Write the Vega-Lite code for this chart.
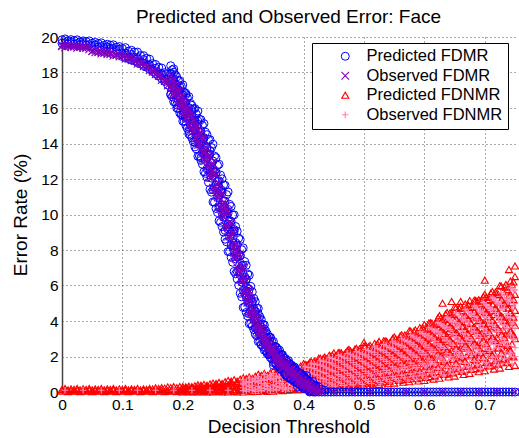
{
"$schema": "https://vega.github.io/schema/vega-lite/v6.json",
"width": 453, "height": 355,
"autosize": "none",
"padding": {"left": 62, "top": 37, "right": 4, "bottom": 46},
"background": "white",
"title": {"text": "Predicted and Observed Error: Face", "fontSize": 19, "font": "Liberation Sans", "fontWeight": "normal", "color": "black", "anchor": "middle", "offset": 3},
"data": {"values": [
{"s":"a","t":0,"v":[0.05,0.15]},{"s":"a","t":0.005,"v":[0.1,0.2]},{"s":"a","t":0.01,"v":[0.02,0.12]},{"s":"a","t":0.015,"v":[0.08,0.18]},
{"s":"a","t":0.02,"v":[0.05,0.15]},{"s":"a","t":0.025,"v":[0.1,0.2]},{"s":"a","t":0.03,"v":[0.02,0.12]},{"s":"a","t":0.035,"v":[0.08,0.18]},
{"s":"a","t":0.04,"v":[0.05,0.15]},{"s":"a","t":0.045,"v":[0.1,0.2]},{"s":"a","t":0.05,"v":[0.02,0.12]},{"s":"a","t":0.055,"v":[0.08,0.18]},
{"s":"a","t":0.06,"v":[0.05,0.15]},{"s":"a","t":0.065,"v":[0.1,0.2]},{"s":"a","t":0.07,"v":[0.02,0.12]},{"s":"a","t":0.075,"v":[0.08,0.18]},
{"s":"a","t":0.08,"v":[0.05,0.15]},{"s":"a","t":0.085,"v":[0.1,0.2]},{"s":"a","t":0.09,"v":[0.02,0.12]},{"s":"a","t":0.095,"v":[0.08,0.18]},
{"s":"a","t":0.1,"v":[0.05,0.15]},{"s":"a","t":0.105,"v":[0.1,0.2]},{"s":"a","t":0.11,"v":[0.02,0.12]},{"s":"a","t":0.115,"v":[0.08,0.18]},
{"s":"a","t":0.12,"v":[0.05,0.15]},{"s":"a","t":0.125,"v":[0.1,0.2]},{"s":"a","t":0.13,"v":[0.02,0.12]},{"s":"a","t":0.135,"v":[0.08,0.18]},
{"s":"a","t":0.14,"v":[0.05,0.15]},{"s":"a","t":0.145,"v":[0.1,0.2]},{"s":"a","t":0.15,"v":[0.02,0.17]},{"s":"a","t":0.155,"v":[0.08,0.23]},
{"s":"a","t":0.16,"v":[0.05,0.2]},{"s":"a","t":0.165,"v":[0.1,0.25]},{"s":"a","t":0.17,"v":[0.02,0.22]},{"s":"a","t":0.175,"v":[0.08,0.28]},
{"s":"a","t":0.18,"v":[0.05,0.25]},{"s":"a","t":0.185,"v":[0.1,0.3]},{"s":"a","t":0.19,"v":[0.02,0.24]},{"s":"a","t":0.195,"v":[0.08,0.3]},
{"s":"a","t":0.2,"v":[0.3,0.19,0.09,0]},{"s":"a","t":0.205,"v":[0.29,0.24,0.14,0.03]},{"s":"a","t":0.21,"v":[0.33,0.19,0.07,0.02]},{"s":"a","t":0.215,"v":[0.3,0.24,0.14,0]},
{"s":"a","t":0.22,"v":[0.35,0.19,0.1,0.05]},{"s":"a","t":0.225,"v":[0.4,0.25,0.12,0]},{"s":"a","t":0.23,"v":[0.38,0.32,0.19,0.04]},{"s":"a","t":0.235,"v":[0.43,0.24,0.09,0.02]},
{"s":"a","t":0.24,"v":[0.38,0.31,0.17,0]},{"s":"a","t":0.245,"v":[0.45,0.24,0.12,0.06]},{"s":"a","t":0.25,"v":[0.5,0.31,0.15,0]},{"s":"a","t":0.255,"v":[0.48,0.4,0.24,0.05]},
{"s":"a","t":0.26,"v":[0.54,0.31,0.11,0.03]},{"s":"a","t":0.265,"v":[0.48,0.4,0.22,0]},{"s":"a","t":0.27,"v":[0.58,0.31,0.16,0.07]},{"s":"a","t":0.275,"v":[0.65,0.4,0.2,0]},
{"s":"a","t":0.28,"v":[0.61,0.51,0.31,0.07]},{"s":"a","t":0.285,"v":[0.69,0.39,0.14,0.04]},{"s":"a","t":0.29,"v":[0.61,0.5,0.28,0]},{"s":"a","t":0.295,"v":[0.72,0.39,0.19,0.09]},
{"s":"a","t":0.3,"v":[0.8,0.5,0.24,0,0.44]},{"s":"a","t":0.305,"v":[0.76,0.63,0.38,0.09,0.46]},{"s":"a","t":0.31,"v":[0.85,0.49,0.18,0.05,0.49]},{"s":"a","t":0.315,"v":[0.76,0.63,0.36,0.02,0.51]},
{"s":"a","t":0.32,"v":[0.89,0.49,0.26,0.13,0.54]},{"s":"a","t":0.325,"v":[1.0,0.63,0.32,0.03,0.56]},{"s":"a","t":0.33,"v":[0.94,0.79,0.48,0.13,0.59]},{"s":"a","t":0.335,"v":[1.05,0.61,0.24,0.09,0.61]},
{"s":"a","t":0.34,"v":[0.93,0.77,0.45,0.04,0.63]},{"s":"a","t":0.345,"v":[1.08,0.6,0.32,0.18,0.66]},{"s":"a","t":0.35,"v":[1.2,0.76,0.4,0.05,0.68]},{"s":"a","t":0.355,"v":[1.12,0.95,0.59,0.18,0.71]},
{"s":"a","t":0.36,"v":[1.24,0.74,0.31,0.13,0.74]},{"s":"a","t":0.365,"v":[1.1,0.92,0.55,0.08,0.76]},{"s":"a","t":0.37,"v":[1.27,0.73,0.41,0.24,0.79]},{"s":"a","t":0.375,"v":[1.4,0.91,0.49,0.1,0.82]},
{"s":"a","t":0.38,"v":[1.31,1.11,0.71,0.24,0.84]},{"s":"a","t":0.385,"v":[1.44,0.87,0.39,0.19,0.87]},{"s":"a","t":0.39,"v":[1.27,1.08,0.66,0.13,0.89]},{"s":"a","t":0.395,"v":[1.46,0.85,0.5,0.31,0.92]},
{"s":"a","t":0.4,"v":[1.6,1.05,0.59,0.15,1.31,0.8]},{"s":"a","t":0.405,"v":[1.51,1.29,0.84,0.31,1.06,0.58]},{"s":"a","t":0.41,"v":[1.67,1.02,0.48,0.25,1.33,0.76]},{"s":"a","t":0.415,"v":[1.49,1.27,0.79,0.18,1.03,0.5]},
{"s":"a","t":0.42,"v":[1.72,1.02,0.6,0.39,1.38,0.82]},{"s":"a","t":0.425,"v":[1.9,1.25,0.71,0.2,1.56,0.97]},{"s":"a","t":0.43,"v":[1.79,1.52,1.0,0.39,1.26,0.7]},{"s":"a","t":0.435,"v":[1.97,1.21,0.58,0.31,1.57,0.9]},
{"s":"a","t":0.44,"v":[1.75,1.49,0.93,0.23,1.21,0.6]},{"s":"a","t":0.445,"v":[2.01,1.19,0.72,0.47,1.61,0.96]},{"s":"a","t":0.45,"v":[2.2,1.46,0.84,0.25,1.81,1.13]},{"s":"a","t":0.455,"v":[2.04,1.75,1.15,0.46,1.45,0.81]},
{"s":"a","t":0.46,"v":[2.22,1.38,0.67,0.37,1.78,1.03]},{"s":"a","t":0.465,"v":[1.95,1.67,1.06,0.28,1.36,0.69]},{"s":"a","t":0.47,"v":[2.22,1.33,0.81,0.54,1.78,1.08]},{"s":"a","t":0.475,"v":[2.4,1.6,0.93,0.3,1.98,1.25]},
{"s":"a","t":0.48,"v":[2.23,1.91,1.27,0.52,1.59,0.91]},{"s":"a","t":0.485,"v":[2.42,1.51,0.75,0.43,1.94,1.14]},{"s":"a","t":0.49,"v":[2.13,1.82,1.16,0.33,1.49,0.77]},{"s":"a","t":0.495,"v":[2.4,1.45,0.9,0.61,1.94,1.18]},
{"s":"a","t":0.5,"v":[2.6,1.75,1.03,0.35,2.8,2.15,1.36]},{"s":"a","t":0.505,"v":[2.42,2.08,1.39,0.59,1.74,1.0]},{"s":"a","t":0.51,"v":[2.63,1.66,0.84,0.5,2.12,1.26]},{"s":"a","t":0.515,"v":[2.33,2.0,1.29,0.4,1.64,0.87]},
{"s":"a","t":0.52,"v":[2.63,1.61,1.01,0.7,2.13,1.32]},{"s":"a","t":0.525,"v":[2.85,1.93,1.15,0.43,2.37,1.52]},{"s":"a","t":0.53,"v":[2.65,2.29,1.55,0.69,1.92,1.13]},{"s":"a","t":0.535,"v":[2.88,1.83,0.95,0.58,2.33,1.4]},
{"s":"a","t":0.54,"v":[2.54,2.19,1.43,0.47,1.81,0.98]},{"s":"a","t":0.545,"v":[2.87,1.77,1.13,0.79,2.33,1.46]},{"s":"a","t":0.55,"v":[3.1,2.11,1.28,0.5,2.58,1.67]},{"s":"a","t":0.555,"v":[2.9,2.51,1.71,0.78,2.11,1.26]},
{"s":"a","t":0.56,"v":[3.16,2.02,1.07,0.67,2.56,1.56]},{"s":"a","t":0.565,"v":[2.81,2.43,1.6,0.55,2.01,1.1]},{"s":"a","t":0.57,"v":[3.18,1.97,1.27,0.9,2.59,1.63]},{"s":"a","t":0.575,"v":[3.45,2.36,1.44,0.58,2.88,1.87]},
{"s":"a","t":0.58,"v":[3.23,2.79,1.91,0.88,2.35,1.41]},{"s":"a","t":0.585,"v":[3.5,2.25,1.2,0.75,2.85,1.74]},{"s":"a","t":0.59,"v":[3.11,2.69,1.78,0.62,2.23,1.23]},{"s":"a","t":0.595,"v":[3.51,2.18,1.41,1.01,2.87,1.81]},
{"s":"a","t":0.6,"v":[3.8,2.6,1.6,0.65,3.17,2.07]},{"s":"a","t":0.605,"v":[3.58,3.09,2.13,1.0,2.61,1.58]},{"s":"a","t":0.61,"v":[3.9,2.52,1.36,0.87,3.18,1.95]},{"s":"a","t":0.615,"v":[3.49,3.02,2.01,0.73,2.51,1.4]},
{"s":"a","t":0.62,"v":[3.96,2.48,1.61,1.16,3.23,2.06]},{"s":"a","t":0.625,"v":[4.3,2.96,1.83,0.78,3.6,2.36]},{"s":"a","t":0.63,"v":[4.04,3.5,2.42,1.16,5.0,2.96,1.81]},{"s":"a","t":0.635,"v":[4.39,2.85,1.56,1.01,3.58,2.22]},
{"s":"a","t":0.64,"v":[3.93,3.4,2.28,0.85,2.84,1.6]},{"s":"a","t":0.645,"v":[4.43,2.79,1.83,1.33,5.1,3.63,2.33]},{"s":"a","t":0.65,"v":[4.8,3.32,2.07,0.9,4.02,2.66]},{"s":"a","t":0.655,"v":[4.48,3.89,2.7,1.32,3.29,2.03]},
{"s":"a","t":0.66,"v":[4.82,3.15,1.76,1.16,5.1,3.95,2.47]},{"s":"a","t":0.665,"v":[4.29,3.72,2.52,0.99,3.12,1.79]},{"s":"a","t":0.67,"v":[4.8,3.05,2.04,1.51,3.94,2.56]},{"s":"a","t":0.675,"v":[5.15,3.59,2.28,1.05,4.33,2.9]},
{"s":"a","t":0.68,"v":[4.81,4.19,2.94,1.49,3.56,2.24]},{"s":"a","t":0.685,"v":[5.16,3.41,1.95,1.32,4.25,2.7]},{"s":"a","t":0.69,"v":[4.6,4.01,2.74,1.14,5.2,3.38,1.98]},{"s":"a","t":0.695,"v":[5.13,3.3,2.24,1.68,4.24,2.79]},
{"s":"a","t":0.7,"v":[5.5,3.87,2.49,1.2,6.3,4.64,3.14]},{"s":"a","t":0.705,"v":[5.16,4.51,3.2,1.67,3.85,2.45]},{"s":"a","t":0.71,"v":[5.57,3.7,2.15,1.48,4.59,2.95]},{"s":"a","t":0.715,"v":[4.99,4.36,3.0,1.29,3.68,2.19]},
{"s":"a","t":0.72,"v":[5.58,3.61,2.47,1.87,4.62,3.06]},{"s":"a","t":0.725,"v":[6.0,4.23,2.75,1.35,5.07,3.44]},{"s":"a","t":0.73,"v":[5.63,4.92,3.5,1.85,4.21,2.7]},{"s":"a","t":0.735,"v":[6.06,4.04,2.37,1.65,5.0,3.23]},
{"s":"a","t":0.74,"v":[5.43,4.74,3.29,1.44,6.9,4.02,2.41]},{"s":"a","t":0.745,"v":[6.05,3.94,2.7,2.06,5.02,3.34]},{"s":"a","t":0.75,"v":[6.5,4.6,3.0,1.5,7.1,5.5,3.75]},
{"s":"b","t":0.005,"v":[0.1]},{"s":"b","t":0.035,"v":[0.1]},{"s":"b","t":0.065,"v":[0.1]},{"s":"b","t":0.095,"v":[0.1]},{"s":"b","t":0.125,"v":[0.1]},
{"s":"b","t":0.155,"v":[0.1]},{"s":"b","t":0.185,"v":[0.1]},{"s":"b","t":0.215,"v":[0.1]},{"s":"b","t":0.245,"v":[0.1]},{"s":"b","t":0.275,"v":[0.1]},
{"s":"b","t":0.3,"v":[0.68,0.44,0.24,0.08,0.5]},{"s":"b","t":0.305,"v":[0.59,0.38,0.17,0.05,0.52]},{"s":"b","t":0.31,"v":[0.79,0.53,0.31,0.14,0.55]},{"s":"b","t":0.315,"v":[0.69,0.38,0.24,0.09,0.58]},
{"s":"b","t":0.32,"v":[0.77,0.63,0.16,0.04,0.6]},{"s":"b","t":0.325,"v":[0.85,0.56,0.32,0.12,0.63]},{"s":"b","t":0.33,"v":[0.74,0.48,0.23,0.08,0.66]},{"s":"b","t":0.335,"v":[0.98,0.66,0.4,0.19,0.68]},
{"s":"b","t":0.34,"v":[0.85,0.47,0.31,0.13,0.71]},{"s":"b","t":0.345,"v":[0.94,0.77,0.21,0.07,0.74]},{"s":"b","t":0.35,"v":[1.03,0.68,0.4,0.17,0.76]},{"s":"b","t":0.355,"v":[0.89,0.59,0.3,0.12,0.79]},
{"s":"b","t":0.36,"v":[1.16,0.8,0.49,0.25,0.82]},{"s":"b","t":0.365,"v":[1.01,0.58,0.39,0.18,0.85]},{"s":"b","t":0.37,"v":[1.11,0.92,0.28,0.12,0.88]},{"s":"b","t":0.375,"v":[1.21,0.82,0.49,0.23,0.91]},
{"s":"b","t":0.38,"v":[1.04,0.71,0.38,0.18,0.93]},{"s":"b","t":0.385,"v":[1.34,0.94,0.6,0.32,0.96]},{"s":"b","t":0.39,"v":[1.17,0.69,0.48,0.24,0.99]},{"s":"b","t":0.395,"v":[1.28,1.06,0.35,0.17,1.02]},
{"s":"b","t":0.4,"v":[1.38,0.95,0.59,0.3,1.17,0.76,0.44]},{"s":"b","t":0.405,"v":[1.21,0.84,0.46,0.24,1.39,1.03,0.64]},{"s":"b","t":0.41,"v":[1.57,1.1,0.71,0.4,1.33,0.91,0.56]},{"s":"b","t":0.415,"v":[1.38,0.82,0.58,0.31,1.59,1.11,0.44]},
{"s":"b","t":0.42,"v":[1.51,1.26,0.44,0.22,1.71,0.98,0.72]},{"s":"b","t":0.425,"v":[1.65,1.14,0.71,0.37,1.39,0.91,0.54]},{"s":"b","t":0.43,"v":[1.44,1.0,0.56,0.3,1.65,1.23,0.77]},{"s":"b","t":0.435,"v":[1.84,1.3,0.85,0.49,1.57,1.08,0.67]},
{"s":"b","t":0.44,"v":[1.62,0.97,0.69,0.38,1.86,1.3,0.53]},{"s":"b","t":0.445,"v":[1.76,1.48,0.53,0.28,1.99,1.15,0.85]},{"s":"b","t":0.45,"v":[1.91,1.32,0.84,0.45,1.62,1.07,0.64]},{"s":"b","t":0.455,"v":[1.65,1.15,0.66,0.36,1.88,1.41,0.89]},
{"s":"b","t":0.46,"v":[2.08,1.48,0.97,0.57,1.78,1.23,0.77]},{"s":"b","t":0.465,"v":[1.81,1.1,0.79,0.44,2.08,1.46,0.61]},{"s":"b","t":0.47,"v":[1.95,1.64,0.6,0.33,2.19,1.28,0.95]},{"s":"b","t":0.475,"v":[2.09,1.46,0.93,0.51,1.77,1.18,0.72]},
{"s":"b","t":0.48,"v":[1.8,1.27,0.74,0.42,2.06,1.55,0.99]},{"s":"b","t":0.485,"v":[2.26,1.62,1.08,0.64,1.94,1.36,0.86]},{"s":"b","t":0.49,"v":[1.97,1.21,0.88,0.51,2.26,1.6,0.68]},{"s":"b","t":0.495,"v":[2.12,1.78,0.67,0.38,2.38,1.41,1.05]},
{"s":"b","t":0.5,"v":[2.26,1.59,1.03,0.58,1.93,1.3,0.8]},{"s":"b","t":0.505,"v":[1.96,1.39,0.82,0.48,2.24,1.69,1.1]},{"s":"b","t":0.51,"v":[2.47,1.77,1.19,0.73,2.12,1.49,0.96]},{"s":"b","t":0.515,"v":[2.16,1.34,0.98,0.58,2.47,1.76,0.77]},
{"s":"b","t":0.52,"v":[2.32,1.96,0.77,0.46,2.61,1.56,1.17]},{"s":"b","t":0.525,"v":[2.49,1.76,1.15,0.67,2.12,1.44,0.91]},{"s":"b","t":0.53,"v":[2.16,1.55,0.93,0.56,2.46,1.87,1.23]},{"s":"b","t":0.535,"v":[2.7,1.95,1.33,0.83,2.33,1.65,1.08]},
{"s":"b","t":0.54,"v":[2.37,1.48,1.1,0.67,2.7,1.94,0.87]},{"s":"b","t":0.545,"v":[2.54,2.15,0.87,0.54,2.85,1.72,1.31]},{"s":"b","t":0.55,"v":[2.71,1.93,1.28,0.76,2.32,1.59,1.02]},{"s":"b","t":0.555,"v":[2.37,1.71,1.05,0.65,2.69,2.05,1.37]},
{"s":"b","t":0.56,"v":[2.97,2.16,1.48,0.94,2.56,1.83,1.21]},{"s":"b","t":0.565,"v":[2.62,1.65,1.24,0.77,2.98,2.15,0.99]},{"s":"b","t":0.57,"v":[2.82,2.39,0.98,0.62,3.15,1.91,1.46]},{"s":"b","t":0.575,"v":[3.02,2.16,1.44,0.86,2.59,1.78,1.15]},
{"s":"b","t":0.58,"v":[2.64,1.91,1.18,0.74,2.99,2.29,1.53]},{"s":"b","t":0.585,"v":[3.29,2.4,1.65,1.05,2.85,2.04,1.35]},{"s":"b","t":0.59,"v":[2.9,1.84,1.38,0.86,3.3,2.38,1.11]},{"s":"b","t":0.595,"v":[3.11,2.65,1.1,0.7,3.48,2.12,1.63]},
{"s":"b","t":0.6,"v":[3.33,2.38,1.6,0.97,2.86,1.97,1.28]},{"s":"b","t":0.605,"v":[2.93,2.13,1.32,0.84,3.32,2.55,1.71]},{"s":"b","t":0.61,"v":[3.67,2.68,1.86,1.2,3.18,2.28,1.53]},{"s":"b","t":0.615,"v":[3.26,2.08,1.57,1.0,3.7,2.68,1.27]},
{"s":"b","t":0.62,"v":[3.51,2.99,1.27,0.82,3.92,2.41,1.85]},{"s":"b","t":0.625,"v":[3.77,2.71,1.83,1.13,3.24,2.26,1.48]},{"s":"b","t":0.63,"v":[3.32,2.42,1.52,0.98,3.75,2.89,1.95]},{"s":"b","t":0.635,"v":[4.13,3.03,2.11,1.38,3.58,2.59,1.74]},
{"s":"b","t":0.64,"v":[3.66,2.35,1.79,1.15,4.15,3.03,1.45]},{"s":"b","t":0.645,"v":[3.94,3.36,1.45,0.95,4.39,2.71,2.1]},{"s":"b","t":0.65,"v":[4.22,3.05,2.07,1.29,3.63,2.54,1.68]},{"s":"b","t":0.655,"v":[3.69,2.7,1.72,1.13,4.16,3.22,2.19]},
{"s":"b","t":0.66,"v":[4.54,3.35,2.35,1.56,3.95,2.87,1.96]},{"s":"b","t":0.665,"v":[4.01,2.6,1.99,1.31,4.53,3.32,1.63]},{"s":"b","t":0.67,"v":[4.27,3.66,1.63,1.1,4.76,2.97,2.32]},{"s":"b","t":0.675,"v":[4.54,3.31,2.28,1.46,3.92,2.77,1.87]},
{"s":"b","t":0.68,"v":[3.98,2.94,1.91,1.29,4.47,3.48,2.4]},{"s":"b","t":0.685,"v":[4.87,3.62,2.57,1.74,4.25,3.12,2.16]},{"s":"b","t":0.69,"v":[4.31,2.83,2.2,1.48,4.85,3.59,1.82]},{"s":"b","t":0.695,"v":[4.58,3.94,1.81,1.26,5.09,3.21,2.53]},
{"s":"b","t":0.7,"v":[4.86,3.57,2.49,1.63,4.21,3.01,2.06]},{"s":"b","t":0.705,"v":[4.29,3.2,2.1,1.45,4.81,3.76,2.63]},{"s":"b","t":0.71,"v":[5.26,3.92,2.81,1.93,4.59,3.39,2.37]},{"s":"b","t":0.715,"v":[4.67,3.09,2.42,1.65,5.26,3.91,2.01]},
{"s":"b","t":0.72,"v":[4.98,4.3,2.01,1.41,5.53,3.52,2.79]},{"s":"b","t":0.725,"v":[5.3,3.91,2.75,1.82,4.61,3.3,2.28]},{"s":"b","t":0.73,"v":[4.68,3.5,2.32,1.62,5.25,4.12,2.89]},{"s":"b","t":0.735,"v":[5.72,4.28,3.09,2.13,5.0,3.71,2.61]},
{"s":"b","t":0.74,"v":[5.09,3.38,2.66,1.83,5.72,4.26,2.22]},{"s":"b","t":0.745,"v":[5.41,4.67,2.21,1.57,6.01,3.84,3.05]},{"s":"b","t":0.75,"v":[5.75,4.25,3.0,2.0,5.0,3.6,2.5]},
{"s":"a","t":0.4025,"v":[0.3,0.67,0.97,1.26,1.56]},{"s":"a","t":0.4075,"v":[0.24,0.55,0.9,1.2,1.54]},{"s":"a","t":0.4125,"v":[0.46,0.81,1.15,1.47,1.72]},{"s":"a","t":0.4175,"v":[0.35,0.75,1.08,1.4,1.73]},
{"s":"a","t":0.4225,"v":[0.28,0.61,1.0,1.33,1.7]},{"s":"a","t":0.4275,"v":[0.52,0.9,1.27,1.62,1.9]},{"s":"a","t":0.4325,"v":[0.39,0.84,1.19,1.55,1.9]},{"s":"a","t":0.4375,"v":[0.32,0.68,1.1,1.47,1.87]},
{"s":"a","t":0.4425,"v":[0.57,0.99,1.4,1.77,2.07]},{"s":"a","t":0.4475,"v":[0.44,0.92,1.3,1.69,2.07]},{"s":"a","t":0.4525,"v":[0.35,0.75,1.2,1.59,2.02]},{"s":"a","t":0.4575,"v":[0.63,1.06,1.5,1.9,2.22]},
{"s":"a","t":0.4625,"v":[0.48,0.98,1.39,1.79,2.2]},{"s":"a","t":0.4675,"v":[0.39,0.8,1.27,1.68,2.13]},{"s":"a","t":0.4725,"v":[0.67,1.13,1.59,2.0,2.34]},{"s":"a","t":0.4775,"v":[0.52,1.05,1.47,1.89,2.31]},
{"s":"a","t":0.4825,"v":[0.42,0.85,1.34,1.77,2.25]},{"s":"a","t":0.4875,"v":[0.72,1.2,1.67,2.11,2.46]},{"s":"a","t":0.4925,"v":[0.56,1.11,1.55,1.99,2.43]},{"s":"a","t":0.4975,"v":[0.46,0.9,1.42,1.87,2.36]},
{"s":"a","t":0.5025,"v":[0.77,1.27,1.76,2.22,2.58]},{"s":"a","t":0.5075,"v":[0.6,1.18,1.64,2.1,2.56]},{"s":"a","t":0.5125,"v":[0.5,0.97,1.51,1.98,2.49]},{"s":"a","t":0.5175,"v":[0.83,1.35,1.87,2.35,2.73]},
{"s":"a","t":0.5225,"v":[0.66,1.26,1.74,2.22,2.71]},{"s":"a","t":0.5275,"v":[0.55,1.04,1.61,2.09,2.63]},{"s":"a","t":0.5325,"v":[0.89,1.44,1.98,2.48,2.88]},{"s":"a","t":0.5375,"v":[0.71,1.34,1.85,2.35,2.85]},
{"s":"a","t":0.5425,"v":[0.61,1.11,1.7,2.21,2.77]},{"s":"a","t":0.5475,"v":[0.96,1.53,2.09,2.61,3.02]},{"s":"a","t":0.5525,"v":[0.77,1.43,1.95,2.48,3.0]},{"s":"a","t":0.5575,"v":[0.66,1.19,1.81,2.35,2.94]},
{"s":"a","t":0.5625,"v":[1.03,1.63,2.24,2.78,3.22]},{"s":"a","t":0.5675,"v":[0.83,1.53,2.09,2.65,3.21]},{"s":"a","t":0.5725,"v":[0.71,1.28,1.94,2.5,3.13]},{"s":"a","t":0.5775,"v":[1.11,1.74,2.38,2.96,3.43]},
{"s":"a","t":0.5825,"v":[0.89,1.63,2.22,2.82,3.41]},{"s":"a","t":0.5875,"v":[0.76,1.37,2.06,2.66,3.32]},{"s":"a","t":0.5925,"v":[1.18,1.85,2.53,3.14,3.63]},{"s":"a","t":0.5975,"v":[0.95,1.74,2.36,2.99,3.61]},
{"s":"a","t":0.6025,"v":[0.82,1.46,2.19,2.83,3.53]},{"s":"a","t":0.6075,"v":[1.27,1.99,2.71,3.36,3.89]},{"s":"a","t":0.6125,"v":[1.05,1.88,2.55,3.22,3.88]},{"s":"a","t":0.6175,"v":[0.91,1.59,2.38,3.06,3.81]},
{"s":"a","t":0.6225,"v":[1.39,2.16,2.93,3.62,4.18]},{"s":"a","t":0.6275,"v":[1.14,2.03,2.75,3.46,4.17]},{"s":"a","t":0.6325,"v":[0.99,1.72,2.56,3.29,4.09]},{"s":"a","t":0.6375,"v":[1.51,2.32,3.14,3.88,4.48]},
{"s":"a","t":0.6425,"v":[1.24,2.19,2.95,3.7,4.46]},{"s":"a","t":0.6475,"v":[1.08,1.85,2.74,3.52,4.36]},{"s":"a","t":0.6525,"v":[1.62,2.48,3.35,4.13,4.76]},{"s":"a","t":0.6575,"v":[1.34,2.33,3.12,3.92,4.71]},
{"s":"a","t":0.6625,"v":[1.18,1.98,2.9,3.7,4.58]},{"s":"a","t":0.6675,"v":[1.73,2.62,3.51,4.32,4.96]},{"s":"a","t":0.6725,"v":[1.44,2.46,3.28,4.1,4.91]},{"s":"a","t":0.6775,"v":[1.27,2.1,3.04,3.87,4.77]},
{"s":"a","t":0.6825,"v":[1.84,2.76,3.67,4.51,5.17]},{"s":"a","t":0.6875,"v":[1.55,2.6,3.44,4.28,5.12]},{"s":"a","t":0.6925,"v":[1.37,2.22,3.19,4.04,4.97]},{"s":"a","t":0.6975,"v":[1.96,2.9,3.84,4.69,5.38]},
{"s":"a","t":0.7025,"v":[1.65,2.73,3.6,4.47,5.33]},{"s":"a","t":0.7075,"v":[1.47,2.35,3.36,4.24,5.21]},{"s":"a","t":0.7125,"v":[2.08,3.07,4.05,4.94,5.66]},{"s":"a","t":0.7175,"v":[1.76,2.9,3.8,4.71,5.62]},
{"s":"a","t":0.7225,"v":[1.57,2.49,3.55,4.47,5.49]},{"s":"a","t":0.7275,"v":[2.21,3.24,4.27,5.21,5.96]},{"s":"a","t":0.7325,"v":[1.87,3.06,4.01,4.96,5.91]},{"s":"a","t":0.7375,"v":[1.67,2.63,3.74,4.71,5.77]},
{"s":"a","t":0.7425,"v":[2.34,3.41,4.49,5.47,6.25]},{"s":"a","t":0.7475,"v":[1.98,3.22,4.22,5.21,6.2]},
{"s":"b","t":0.4025,"v":[0.3,0.6,0.89,1.19,1.41]},{"s":"b","t":0.4075,"v":[0.23,0.55,0.85,1.11,1.39]},{"s":"b","t":0.4125,"v":[0.41,0.74,1.06,1.37,1.59]},{"s":"b","t":0.4175,"v":[0.35,0.67,1.0,1.32,1.57]},
{"s":"b","t":0.4225,"v":[0.26,0.61,0.95,1.23,1.54]},{"s":"b","t":0.4275,"v":[0.46,0.83,1.17,1.52,1.76]},{"s":"b","t":0.4325,"v":[0.39,0.75,1.1,1.46,1.72]},{"s":"b","t":0.4375,"v":[0.3,0.68,1.05,1.36,1.69]},
{"s":"b","t":0.4425,"v":[0.52,0.91,1.29,1.66,1.92]},{"s":"b","t":0.4475,"v":[0.44,0.82,1.21,1.59,1.88]},{"s":"b","t":0.4525,"v":[0.33,0.75,1.14,1.47,1.83]},{"s":"b","t":0.4575,"v":[0.56,0.98,1.38,1.78,2.06]},
{"s":"b","t":0.4625,"v":[0.48,0.88,1.29,1.69,2.0]},{"s":"b","t":0.4675,"v":[0.37,0.8,1.21,1.56,1.93]},{"s":"b","t":0.4725,"v":[0.61,1.05,1.46,1.88,2.17]},{"s":"b","t":0.4775,"v":[0.52,0.94,1.36,1.79,2.1]},
{"s":"b","t":0.4825,"v":[0.4,0.85,1.28,1.65,2.03]},{"s":"b","t":0.4875,"v":[0.65,1.11,1.54,1.98,2.28]},{"s":"b","t":0.4925,"v":[0.56,1.0,1.44,1.88,2.21]},{"s":"b","t":0.4975,"v":[0.43,0.9,1.35,1.73,2.13]},
{"s":"b","t":0.5025,"v":[0.7,1.17,1.63,2.08,2.4]},{"s":"b","t":0.5075,"v":[0.6,1.06,1.52,1.98,2.33]},{"s":"b","t":0.5125,"v":[0.48,0.97,1.44,1.84,2.26]},{"s":"b","t":0.5175,"v":[0.76,1.26,1.73,2.21,2.54]},
{"s":"b","t":0.5225,"v":[0.66,1.14,1.62,2.1,2.46]},{"s":"b","t":0.5275,"v":[0.53,1.04,1.53,1.95,2.39]},{"s":"b","t":0.5325,"v":[0.82,1.34,1.84,2.33,2.68]},{"s":"b","t":0.5375,"v":[0.71,1.22,1.72,2.22,2.6]},
{"s":"b","t":0.5425,"v":[0.58,1.11,1.62,2.06,2.52]},{"s":"b","t":0.5475,"v":[0.88,1.42,1.94,2.46,2.82]},{"s":"b","t":0.5525,"v":[0.77,1.3,1.82,2.35,2.74]},{"s":"b","t":0.5575,"v":[0.63,1.19,1.73,2.19,2.67]},
{"s":"b","t":0.5625,"v":[0.95,1.52,2.07,2.62,3.0]},{"s":"b","t":0.5675,"v":[0.83,1.39,1.95,2.51,2.93]},{"s":"b","t":0.5725,"v":[0.68,1.28,1.85,2.33,2.85]},{"s":"b","t":0.5775,"v":[1.02,1.63,2.21,2.79,3.2]},
{"s":"b","t":0.5825,"v":[0.89,1.49,2.08,2.67,3.11]},{"s":"b","t":0.5875,"v":[0.73,1.37,1.97,2.48,3.02]},{"s":"b","t":0.5925,"v":[1.09,1.73,2.35,2.96,3.39]},{"s":"b","t":0.5975,"v":[0.95,1.58,2.21,2.83,3.3]},
{"s":"b","t":0.6025,"v":[0.79,1.46,2.1,2.64,3.21]},{"s":"b","t":0.6075,"v":[1.18,1.86,2.52,3.17,3.62]},{"s":"b","t":0.6125,"v":[1.05,1.71,2.38,3.05,3.55]},{"s":"b","t":0.6175,"v":[0.87,1.59,2.27,2.85,3.47]},
{"s":"b","t":0.6225,"v":[1.29,2.02,2.72,3.41,3.9]},{"s":"b","t":0.6275,"v":[1.14,1.86,2.57,3.28,3.82]},{"s":"b","t":0.6325,"v":[0.96,1.72,2.45,3.07,3.72]},{"s":"b","t":0.6375,"v":[1.39,2.17,2.92,3.66,4.18]},
{"s":"b","t":0.6425,"v":[1.24,2.0,2.76,3.51,4.08]},{"s":"b","t":0.6475,"v":[1.04,1.85,2.63,3.28,3.98]},{"s":"b","t":0.6525,"v":[1.5,2.33,3.11,3.89,4.44]},{"s":"b","t":0.6575,"v":[1.34,2.13,2.93,3.72,4.31]},
{"s":"b","t":0.6625,"v":[1.14,1.98,2.78,3.46,4.18]},{"s":"b","t":0.6675,"v":[1.61,2.46,3.27,4.08,4.64]},{"s":"b","t":0.6725,"v":[1.44,2.26,3.08,3.89,4.5]},{"s":"b","t":0.6775,"v":[1.23,2.1,2.92,3.62,4.36]},
{"s":"b","t":0.6825,"v":[1.72,2.59,3.42,4.26,4.84]},{"s":"b","t":0.6875,"v":[1.55,2.39,3.23,4.07,4.7]},{"s":"b","t":0.6925,"v":[1.32,2.22,3.06,3.78,4.55]},{"s":"b","t":0.6975,"v":[1.83,2.73,3.58,4.44,5.04]},
{"s":"b","t":0.7025,"v":[1.65,2.52,3.38,4.25,4.9]},{"s":"b","t":0.7075,"v":[1.42,2.35,3.23,3.98,4.77]},{"s":"b","t":0.7125,"v":[1.95,2.89,3.78,4.68,5.3]},{"s":"b","t":0.7175,"v":[1.76,2.67,3.58,4.49,5.17]},
{"s":"b","t":0.7225,"v":[1.52,2.49,3.41,4.2,5.03]},{"s":"b","t":0.7275,"v":[2.07,3.05,3.99,4.93,5.58]},{"s":"b","t":0.7325,"v":[1.87,2.82,3.77,4.72,5.44]},{"s":"b","t":0.7375,"v":[1.62,2.63,3.6,4.42,5.29]},
{"s":"b","t":0.7425,"v":[2.19,3.22,4.2,5.18,5.86]},{"s":"b","t":0.7475,"v":[1.98,2.98,3.97,4.96,5.71]},
{"s":"c","t":0,"v":[19.84,19.65]},{"s":"c","t":0.005,"v":[19.89,19.68]},{"s":"c","t":0.01,"v":[19.79,19.61]},{"s":"c","t":0.015,"v":[19.85,19.7]},
{"s":"c","t":0.02,"v":[19.8,19.6]},{"s":"c","t":0.025,"v":[19.84,19.63]},{"s":"c","t":0.03,"v":[19.72,19.54]},{"s":"c","t":0.035,"v":[19.78,19.63]},
{"s":"c","t":0.04,"v":[19.74,19.55]},{"s":"c","t":0.045,"v":[19.78,19.57]},{"s":"c","t":0.05,"v":[19.65,19.47]},{"s":"c","t":0.055,"v":[19.7,19.55]},
{"s":"c","t":0.06,"v":[19.63,19.43]},{"s":"c","t":0.065,"v":[19.67,19.46]},{"s":"c","t":0.07,"v":[19.53,19.35]},{"s":"c","t":0.075,"v":[19.59,19.44]},
{"s":"c","t":0.08,"v":[19.54,19.35]},{"s":"c","t":0.085,"v":[19.56,19.35]},{"s":"c","t":0.09,"v":[19.43,19.25]},{"s":"c","t":0.095,"v":[19.46,19.31]},
{"s":"c","t":0.1,"v":[19.35,19.06,18.9]},{"s":"c","t":0.105,"v":[19.4,19.09,18.84]},{"s":"c","t":0.11,"v":[19.2,18.88,18.78]},{"s":"c","t":0.115,"v":[19.25,19.02,18.71]},
{"s":"c","t":0.12,"v":[19.15,18.84,18.65]},{"s":"c","t":0.125,"v":[19.15,18.84,18.56]},{"s":"c","t":0.13,"v":[18.95,18.61,18.48]},{"s":"c","t":0.135,"v":[18.95,18.73,18.39]},
{"s":"c","t":0.14,"v":[18.8,18.46,18.3]},{"s":"c","t":0.145,"v":[18.75,18.43,18.18]},{"s":"c","t":0.15,"v":[18.5,18.15,18.05]},{"s":"c","t":0.155,"v":[18.45,18.24,17.93]},
{"s":"c","t":0.16,"v":[18.3,17.99,17.8]},{"s":"c","t":0.165,"v":[18.25,17.93,17.65]},{"s":"c","t":0.17,"v":[17.99,17.63,17.5]},{"s":"c","t":0.175,"v":[17.9,17.64,17.3]},
{"s":"c","t":0.18,"v":[17.95,17.5,16.78,18.38,17.91,16.75]},{"s":"c","t":0.185,"v":[18.01,17.2,16.75,18.2,17.66,16.35]},{"s":"c","t":0.19,"v":[17.08,16.9,16.0,17.75,17.29,16.18]},{"s":"c","t":0.195,"v":[17.18,16.55,16.28,17.53,17.0,15.72]},
{"s":"c","t":0.2,"v":[16.74,16.2,15.57,17.3,16.71,15.26]},{"s":"c","t":0.205,"v":[16.75,15.85,15.49,16.83,16.3,15.02]},{"s":"c","t":0.21,"v":[15.77,15.5,14.69,16.64,16.02,14.54]},{"s":"c","t":0.215,"v":[15.87,15.15,14.97,16.15,15.61,14.31]},
{"s":"c","t":0.22,"v":[15.25,14.8,14.08,15.97,15.34,13.81]},{"s":"c","t":0.225,"v":[15.26,14.45,14.0,15.83,15.09,13.28]},{"s":"c","t":0.23,"v":[14.28,14.1,13.2,15.34,14.67,13.05]},{"s":"c","t":0.235,"v":[14.28,13.65,13.38,15.12,14.33,12.41]},
{"s":"c","t":0.24,"v":[13.74,13.2,12.57,14.5,13.8,12.1]},{"s":"c","t":0.245,"v":[13.6,12.7,12.34,14.22,13.4,11.41]},{"s":"c","t":0.25,"v":[12.47,12.2,11.39,13.96,13.01,10.71]},{"s":"c","t":0.255,"v":[12.37,11.65,11.47,13.2,12.36,10.34]},
{"s":"c","t":0.26,"v":[11.55,11.1,10.38,12.83,11.9,9.64]},{"s":"c","t":0.265,"v":[11.36,10.55,10.1,12.01,11.22,9.32]},{"s":"c","t":0.27,"v":[10.18,10.0,9.1,11.64,10.76,8.61]},{"s":"c","t":0.275,"v":[10.08,9.45,9.18,11.27,10.29,7.91]},
{"s":"c","t":0.28,"v":[9.44,8.9,8.27,10.45,9.61,7.59]},{"s":"c","t":0.285,"v":[9.15,8.25,7.89,9.98,9.05,6.79]},{"s":"c","t":0.29,"v":[7.87,7.6,6.79,9.06,8.27,6.37]},{"s":"c","t":0.295,"v":[7.67,6.95,6.77,8.59,7.71,5.56]},
{"s":"c","t":0.3,"v":[6.65,6.3,5.74,8.12,7.14,4.76]},{"s":"c","t":0.305,"v":[6.33,5.7,5.35,7.14,6.36,4.48]},{"s":"c","t":0.31,"v":[5.24,5.1,4.4,6.58,5.78,3.85]},{"s":"c","t":0.315,"v":[5.09,4.6,4.39,5.64,5.08,3.72]},
{"s":"c","t":0.32,"v":[4.52,4.1,3.61,5.09,4.56,3.26]},{"s":"c","t":0.325,"v":[4.4,3.7,3.42,4.71,4.17,2.84]},{"s":"c","t":0.33,"v":[3.51,3.3,2.67,4.07,3.66,2.65]},{"s":"c","t":0.335,"v":[3.56,3.0,2.86,3.77,3.35,2.35]},
{"s":"c","t":0.34,"v":[3.05,2.7,2.14,3.27,2.96,2.22]},{"s":"c","t":0.345,"v":[3.08,2.45,2.1,3.06,2.73,1.94]},{"s":"c","t":0.35,"v":[2.34,2.2,1.5,2.85,2.5,1.65]},{"s":"c","t":0.355,"v":[2.49,2.0,1.79,2.52,2.24,1.56]},
{"s":"c","t":0.36,"v":[2.1,1.45,2.36,2.06,1.33]},{"s":"c","t":0.365,"v":[2.1,1.4,2.05,1.81,1.22]},{"s":"c","t":0.37,"v":[1.55,0.95,1.88,1.62,0.99]},{"s":"c","t":0.375,"v":[1.65,1.15,1.77,1.49,0.81]},
{"s":"c","t":0.38,"v":[1.35,0.7,1.52,1.29,0.74]},{"s":"c","t":0.385,"v":[1.4,0.7,1.39,1.16,0.57]},{"s":"c","t":0.39,"v":[0.9,0.3,1.15,0.96,0.5]},{"s":"c","t":0.395,"v":[1.03,0.53,1.05,0.85,0.36]},
{"s":"c","t":0.4,"v":[0.85,0.2,0.94,0.73,0.22]},{"s":"c","t":0.405,"v":[0.92,0.22,0.72,0.56,0.17]},{"s":"c","t":0.41,"v":[0.45,0,0.61,0.44,0.04]},{"s":"c","t":0.415,"v":[0.6,0.1,0.43,0.31,0.01]},
{"s":"c","t":0.42,"v":[0.37,0,0.35,0.23]},{"s":"c","t":0.425,"v":[0.3,0]},{"s":"c","t":0.43,"v":[0.15,0]},{"s":"c","t":0.435,"v":[0.1,0]},
{"s":"c","t":0.1825,"v":[18.15,17.63,17.11,16.63]},{"s":"c","t":0.1875,"v":[17.87,17.34,16.81,16.32]},{"s":"c","t":0.1925,"v":[17.55,17.01,16.47,15.97]},{"s":"c","t":0.1975,"v":[17.22,16.67,16.12,15.61]},
{"s":"c","t":0.2025,"v":[16.89,16.32,15.76,15.24]},{"s":"c","t":0.2075,"v":[16.57,15.99,15.4,14.86]},{"s":"c","t":0.2125,"v":[16.26,15.65,15.04,14.47]},{"s":"c","t":0.2175,"v":[15.95,15.31,14.68,14.09]},
{"s":"c","t":0.2225,"v":[15.65,14.98,14.31,13.69]},{"s":"c","t":0.2275,"v":[15.36,14.65,13.94,13.29]},{"s":"c","t":0.2325,"v":[15.02,14.27,13.52,12.83]},{"s":"c","t":0.2375,"v":[14.64,13.85,13.05,12.32]},
{"s":"c","t":0.2425,"v":[14.22,13.39,12.57,11.81]},{"s":"c","t":0.2475,"v":[13.77,12.91,12.05,11.26]},{"s":"c","t":0.2525,"v":[13.29,12.4,11.51,10.69]},{"s":"c","t":0.2575,"v":[12.77,11.86,10.95,10.11]},
{"s":"c","t":0.2625,"v":[12.22,11.31,10.4,9.56]},{"s":"c","t":0.2675,"v":[11.67,10.76,9.85,9.01]},{"s":"c","t":0.2725,"v":[11.12,10.21,9.3,8.46]},{"s":"c","t":0.2775,"v":[10.57,9.66,8.75,7.91]},
{"s":"c","t":0.2825,"v":[9.97,9.06,8.15,7.31]},{"s":"c","t":0.2875,"v":[9.32,8.41,7.5,6.66]},{"s":"c","t":0.2925,"v":[8.67,7.76,6.85,6.01]},{"s":"c","t":0.2975,"v":[8.02,7.11,6.2,5.36]},
{"s":"c","t":0.3025,"v":[7.35,6.47,5.6,4.79]},{"s":"c","t":0.3075,"v":[6.65,5.84,5.03,4.28]},{"s":"c","t":0.3125,"v":[5.95,5.24,4.52,3.86]},{"s":"c","t":0.3175,"v":[5.27,4.67,4.07,3.52]},
{"s":"c","t":0.3225,"v":[4.72,4.19,3.65,3.16]},{"s":"c","t":0.3275,"v":[4.24,3.76,3.28,2.83]},{"s":"c","t":0.3325,"v":[3.81,3.38,2.95,2.56]},{"s":"c","t":0.3375,"v":[3.43,3.05,2.68,2.33]},
{"s":"c","t":0.3425,"v":[3.1,2.76,2.41,2.09]},{"s":"c","t":0.3475,"v":[2.83,2.5,2.17,1.86]},{"s":"c","t":0.3525,"v":[2.58,2.27,1.96,1.67]},{"s":"c","t":0.3575,"v":[2.36,2.06,1.76,1.49]},
{"s":"c","t":0.3625,"v":[2.14,1.85,1.57,1.3]},{"s":"c","t":0.3675,"v":[1.92,1.65,1.37,1.12]},{"s":"c","t":0.3725,"v":[1.72,1.46,1.2,0.96]},{"s":"c","t":0.3775,"v":[1.56,1.31,1.05,0.82]},
{"s":"c","t":0.3825,"v":[1.39,1.15,0.91,0.69]},{"s":"c","t":0.3875,"v":[1.22,0.99,0.77,0.56]},{"s":"c","t":0.3925,"v":[1.07,0.86,0.64,0.44]},{"s":"c","t":0.3975,"v":[0.92,0.72,0.52,0.33]},
{"s":"c","t":0.4025,"v":[0.76,0.58,0.4,0.23]},{"s":"c","t":0.4075,"v":[0.62,0.45,0.28,0.13]},{"s":"c","t":0.4125,"v":[0.48,0.33,0.18,0.04]},{"s":"c","t":0.4175,"v":[0.37,0.23,0.1,0]},
{"s":"c","t":0.44,"v":[0]},{"s":"c","t":0.445,"v":[0]},{"s":"c","t":0.45,"v":[0]},{"s":"c","t":0.455,"v":[0]},{"s":"c","t":0.46,"v":[0]},{"s":"c","t":0.465,"v":[0]},
{"s":"c","t":0.47,"v":[0]},{"s":"c","t":0.475,"v":[0]},{"s":"c","t":0.48,"v":[0]},{"s":"c","t":0.485,"v":[0]},{"s":"c","t":0.49,"v":[0]},{"s":"c","t":0.495,"v":[0]},
{"s":"c","t":0.5,"v":[0]},{"s":"c","t":0.505,"v":[0]},{"s":"c","t":0.51,"v":[0]},{"s":"c","t":0.515,"v":[0]},{"s":"c","t":0.52,"v":[0]},{"s":"c","t":0.525,"v":[0]},
{"s":"c","t":0.53,"v":[0]},{"s":"c","t":0.535,"v":[0]},{"s":"c","t":0.54,"v":[0]},{"s":"c","t":0.545,"v":[0]},{"s":"c","t":0.55,"v":[0]},{"s":"c","t":0.555,"v":[0]},
{"s":"c","t":0.56,"v":[0]},{"s":"c","t":0.565,"v":[0]},{"s":"c","t":0.57,"v":[0]},{"s":"c","t":0.575,"v":[0]},{"s":"c","t":0.58,"v":[0]},{"s":"c","t":0.585,"v":[0]},
{"s":"c","t":0.59,"v":[0]},{"s":"c","t":0.595,"v":[0]},{"s":"c","t":0.6,"v":[0]},{"s":"c","t":0.605,"v":[0]},{"s":"c","t":0.61,"v":[0]},{"s":"c","t":0.615,"v":[0]},
{"s":"c","t":0.62,"v":[0]},{"s":"c","t":0.625,"v":[0]},{"s":"c","t":0.63,"v":[0]},{"s":"c","t":0.635,"v":[0]},{"s":"c","t":0.64,"v":[0]},{"s":"c","t":0.645,"v":[0]},
{"s":"c","t":0.65,"v":[0]},{"s":"c","t":0.655,"v":[0]},{"s":"c","t":0.66,"v":[0]},{"s":"c","t":0.665,"v":[0]},{"s":"c","t":0.67,"v":[0]},{"s":"c","t":0.675,"v":[0]},
{"s":"c","t":0.68,"v":[0]},{"s":"c","t":0.685,"v":[0]},{"s":"c","t":0.69,"v":[0]},{"s":"c","t":0.695,"v":[0]},{"s":"c","t":0.7,"v":[0]},{"s":"c","t":0.705,"v":[0]},
{"s":"c","t":0.71,"v":[0]},{"s":"c","t":0.715,"v":[0]},{"s":"c","t":0.72,"v":[0]},{"s":"c","t":0.725,"v":[0]},{"s":"c","t":0.73,"v":[0]},{"s":"c","t":0.735,"v":[0]},
{"s":"c","t":0.74,"v":[0]},{"s":"c","t":0.745,"v":[0]},{"s":"c","t":0.75,"v":[0]},
{"s":"d","t":0,"v":[19.47,19.53]},{"s":"d","t":0.005,"v":[19.42,19.55]},{"s":"d","t":0.01,"v":[19.49,19.5]},{"s":"d","t":0.015,"v":[19.43,19.56]},
{"s":"d","t":0.02,"v":[19.45,19.49]},{"s":"d","t":0.025,"v":[19.39,19.5]},{"s":"d","t":0.03,"v":[19.45,19.44]},{"s":"d","t":0.035,"v":[19.38,19.49]},
{"s":"d","t":0.04,"v":[19.37,19.43]},{"s":"d","t":0.045,"v":[19.31,19.44]},{"s":"d","t":0.05,"v":[19.2,19.21]},{"s":"d","t":0.055,"v":[19.13,19.26]},
{"s":"d","t":0.06,"v":[19.13,19.17]},{"s":"d","t":0.065,"v":[19.07,19.18]},{"s":"d","t":0.07,"v":[19.11,19.1]},{"s":"d","t":0.075,"v":[19.04,19.15]},
{"s":"d","t":0.08,"v":[19.02,19.08]},{"s":"d","t":0.085,"v":[18.94,19.07]},{"s":"d","t":0.09,"v":[18.98,18.99]},{"s":"d","t":0.095,"v":[18.89,19.02]},
{"s":"d","t":0.1,"v":[18.91,18.94]},{"s":"d","t":0.105,"v":[18.78,18.95]},{"s":"d","t":0.11,"v":[18.84,18.77]},{"s":"d","t":0.115,"v":[18.68,18.87]},
{"s":"d","t":0.12,"v":[18.64,18.71]},{"s":"d","t":0.125,"v":[18.48,18.69]},{"s":"d","t":0.13,"v":[18.53,18.49]},{"s":"d","t":0.135,"v":[18.35,18.57]},
{"s":"d","t":0.14,"v":[18.31,18.34]},{"s":"d","t":0.145,"v":[18.12,18.29]},{"s":"d","t":0.15,"v":[18.11,18.04]},{"s":"d","t":0.155,"v":[17.9,18.09]},
{"s":"d","t":0.16,"v":[17.79,17.86]},{"s":"d","t":0.165,"v":[17.57,17.78]},{"s":"d","t":0.17,"v":[17.55,17.51]},{"s":"d","t":0.175,"v":[17.26,17.48]},
{"s":"d","t":0.18,"v":[17.45,17.2,17.84,17.16]},{"s":"d","t":0.185,"v":[17.0,16.7,17.58,16.82]},{"s":"d","t":0.19,"v":[17.0,16.8,17.23,16.57]},{"s":"d","t":0.195,"v":[16.39,16.35,16.93,16.17]},
{"s":"d","t":0.2,"v":[16.36,16.08,16.63,15.77]},{"s":"d","t":0.205,"v":[15.77,15.41,16.23,15.47]},{"s":"d","t":0.21,"v":[15.82,15.62,15.94,15.06]},{"s":"d","t":0.215,"v":[14.91,14.87,15.53,14.77]},
{"s":"d","t":0.22,"v":[15.04,14.76,15.25,14.35]},{"s":"d","t":0.225,"v":[14.45,14.09,14.98,13.92]},{"s":"d","t":0.23,"v":[14.5,14.3,14.58,13.62]},{"s":"d","t":0.235,"v":[13.49,13.45,14.22,13.08]},
{"s":"d","t":0.24,"v":[13.36,13.08,13.7,12.7]},{"s":"d","t":0.245,"v":[12.62,12.26,13.29,12.11]},{"s":"d","t":0.25,"v":[12.52,12.32,12.88,11.52]},{"s":"d","t":0.255,"v":[11.41,11.37,12.25,11.05]},
{"s":"d","t":0.26,"v":[11.34,11.06,11.77,10.43]},{"s":"d","t":0.265,"v":[10.55,10.19,11.11,9.99]},{"s":"d","t":0.27,"v":[10.4,10.2,10.63,9.37]},{"s":"d","t":0.275,"v":[9.29,9.25,10.15,8.75]},
{"s":"d","t":0.28,"v":[9.06,8.78,9.5,8.3]},{"s":"d","t":0.285,"v":[8.17,7.81,8.92,7.58]},{"s":"d","t":0.29,"v":[7.92,7.72,8.16,7.04]},{"s":"d","t":0.295,"v":[6.71,6.67,7.58,6.32]},
{"s":"d","t":0.3,"v":[6.48,6.27,7.0,5.6]},{"s":"d","t":0.305,"v":[5.7,5.43,6.25,5.15]},{"s":"d","t":0.31,"v":[5.4,5.25,5.67,4.53]},{"s":"d","t":0.315,"v":[4.48,4.45,5.0,4.2]},
{"s":"d","t":0.32,"v":[4.22,4.01,4.48,3.72]},{"s":"d","t":0.325,"v":[3.64,3.37,4.09,3.31]},{"s":"d","t":0.33,"v":[3.54,3.39,3.6,3.0]},{"s":"d","t":0.335,"v":[2.82,2.79,3.29,2.71]},
{"s":"d","t":0.34,"v":[2.88,2.67,2.92,2.48]},{"s":"d","t":0.345,"v":[2.45,2.18,2.68,2.22]},{"s":"d","t":0.35,"v":[2.5,2.35,2.45,1.95]},{"s":"d","t":0.355,"v":[1.88,1.85,2.2,1.8]},
{"s":"d","t":0.36,"v":[1.88,1.74,2.01,1.59]},{"s":"d","t":0.365,"v":[1.56,1.38,1.77,1.43]},{"s":"d","t":0.37,"v":[1.56,1.46,1.58,1.22]},{"s":"d","t":0.375,"v":[1.13,1.11,1.45,1.05]},
{"s":"d","t":0.38,"v":[1.22,1.08,1.26,0.94]},{"s":"d","t":0.385,"v":[0.95,0.77,1.12,0.78]},{"s":"d","t":0.39,"v":[1.0,0.9,0.94,0.66]},{"s":"d","t":0.395,"v":[0.6,0.58,0.82,0.54]},
{"s":"d","t":0.4,"v":[0.63,0.49,0.7,0.4]},{"s":"d","t":0.405,"v":[0.38,0.2,0.53,0.31]},{"s":"d","t":0.41,"v":[0.46,0.36,0.42,0.18]},{"s":"d","t":0.415,"v":[0.08,0.06,0.29,0.11]},
{"s":"d","t":0.42,"v":[0.2,0.05,0.21,0.03]},{"s":"d","t":0.425,"v":[0.1,0]},{"s":"d","t":0.43,"v":[0.05,0]},
{"s":"d","t":0.1825,"v":[17.59,17.11]},{"s":"d","t":0.1875,"v":[17.29,16.81]},{"s":"d","t":0.1925,"v":[16.97,16.47]},{"s":"d","t":0.1975,"v":[16.62,16.12]},
{"s":"d","t":0.2025,"v":[16.28,15.76]},{"s":"d","t":0.2075,"v":[15.94,15.4]},{"s":"d","t":0.2125,"v":[15.6,15.04]},{"s":"d","t":0.2175,"v":[15.26,14.68]},
{"s":"d","t":0.2225,"v":[14.93,14.31]},{"s":"d","t":0.2275,"v":[14.6,13.94]},{"s":"d","t":0.2325,"v":[14.22,13.52]},{"s":"d","t":0.2375,"v":[13.79,13.05]},
{"s":"d","t":0.2425,"v":[13.33,12.57]},{"s":"d","t":0.2475,"v":[12.85,12.05]},{"s":"d","t":0.2525,"v":[12.33,11.51]},{"s":"d","t":0.2575,"v":[11.79,10.95]},
{"s":"d","t":0.2625,"v":[11.24,10.4]},{"s":"d","t":0.2675,"v":[10.69,9.85]},{"s":"d","t":0.2725,"v":[10.14,9.3]},{"s":"d","t":0.2775,"v":[9.59,8.75]},
{"s":"d","t":0.2825,"v":[8.99,8.15]},{"s":"d","t":0.2875,"v":[8.34,7.5]},{"s":"d","t":0.2925,"v":[7.69,6.85]},{"s":"d","t":0.2975,"v":[7.04,6.2]},
{"s":"d","t":0.3025,"v":[6.41,5.6]},{"s":"d","t":0.3075,"v":[5.78,5.03]},{"s":"d","t":0.3125,"v":[5.18,4.52]},{"s":"d","t":0.3175,"v":[4.63,4.07]},
{"s":"d","t":0.3225,"v":[4.15,3.65]},{"s":"d","t":0.3275,"v":[3.72,3.28]},{"s":"d","t":0.3325,"v":[3.35,2.95]},{"s":"d","t":0.3375,"v":[3.02,2.68]},
{"s":"d","t":0.3425,"v":[2.73,2.41]},{"s":"d","t":0.3475,"v":[2.47,2.17]},{"s":"d","t":0.3525,"v":[2.24,1.96]},{"s":"d","t":0.3575,"v":[2.04,1.76]},
{"s":"d","t":0.3625,"v":[1.83,1.57]},{"s":"d","t":0.3675,"v":[1.63,1.37]},{"s":"d","t":0.3725,"v":[1.44,1.2]},{"s":"d","t":0.3775,"v":[1.29,1.05]},
{"s":"d","t":0.3825,"v":[1.13,0.91]},{"s":"d","t":0.3875,"v":[0.98,0.77]},{"s":"d","t":0.3925,"v":[0.84,0.64]},{"s":"d","t":0.3975,"v":[0.7,0.52]},
{"s":"d","t":0.4025,"v":[0.56,0.4]},{"s":"d","t":0.4075,"v":[0.44,0.28]},{"s":"d","t":0.4125,"v":[0.32,0.18]},{"s":"d","t":0.4175,"v":[0.22,0.1]},
{"s":"d","t":0.45,"v":[0]},{"s":"d","t":0.48,"v":[0]},{"s":"d","t":0.51,"v":[0]},{"s":"d","t":0.54,"v":[0]},{"s":"d","t":0.57,"v":[0]},{"s":"d","t":0.6,"v":[0]},
{"s":"d","t":0.63,"v":[0]},{"s":"d","t":0.66,"v":[0]},{"s":"d","t":0.69,"v":[0]},{"s":"d","t":0.72,"v":[0]},{"s":"d","t":0.75,"v":[0]}
]},
"transform": [{"flatten": ["v"]}],
"mark": {"type": "point", "filled": false, "opacity": 1},
"encoding": {
  "x": {"field": "t", "type": "quantitative",
        "scale": {"domain": [0, 0.75], "nice": false, "zero": false},
        "axis": {"title": "Decision Threshold", "values": [0,0.1,0.2,0.3,0.4,0.5,0.6,0.7], "format": ".1~f", "labelPadding": 5, "titleY": 40, "titleBaseline": "alphabetic"}},
  "y": {"field": "v", "type": "quantitative",
        "scale": {"domain": [0, 20], "nice": false, "zero": false},
        "axis": {"title": "Error Rate (%)", "values": [0,2,4,6,8,10,12,14,16,18,20], "format": "d", "labelPadding": 4, "titleX": -36, "titleY": 177.5, "titleBaseline": "alphabetic", "titleAlign": "center", "titleAngle": -90}},
  "color": {"field": "s", "type": "nominal",
        "scale": {"domain": ["c","d","a","b"], "range": ["#0000FF","#7F00BF","#FF0000","#FF85B5"]},
        "legend": {"title": null, "orient": "none", "legendX": 250, "legendY": 6,
                   "labelExpr": "datum.label == 'c' ? 'Predicted FDMR' : datum.label == 'd' ? 'Observed FDMR' : datum.label == 'a' ? 'Predicted FDNMR' : 'Observed FDNMR'",
                   "labelFontSize": 16.5, "labelFont": "Liberation Sans", "labelColor": "black",
                   "strokeColor": "black", "fillColor": "white", "padding": 5, "rowPadding": 2.5,
                   "symbolOffset": 20, "labelOffset": 13, "symbolStrokeWidth": 1}},
  "shape": {"field": "s", "type": "nominal",
        "scale": {"domain": ["c","d","a","b"], "range": ["circle","M-1,-1L1,1M-1,1L1,-1","triangle-up","M-1,0L1,0M0,-1L0,1"]}},
  "size": {"field": "s", "type": "nominal",
        "scale": {"domain": ["c","d","a","b"], "range": [64, 42, 130, 64]}},
  "strokeWidth": {"field": "s", "type": "nominal", "legend": null,
        "scale": {"domain": ["c","d","a","b"], "range": [1, 1.2, 1.2, 1.6]}}
},
"config": {
  "view": {"stroke": null},
  "font": "Liberation Sans",
  "axis": {"labelFont": "Liberation Sans", "labelFontSize": 15.5, "labelColor": "black", "labelFlush": false,
           "titleFont": "Liberation Sans", "titleFontSize": 19, "titleFontWeight": "normal", "titleColor": "black",
           "grid": true, "gridDash": [1,3], "gridColor": "#555555", "gridOpacity": 1, "gridWidth": 1,
           "ticks": false, "tickSize": 0, "domainColor": "#444444", "domainWidth": 1.5}
}
}
